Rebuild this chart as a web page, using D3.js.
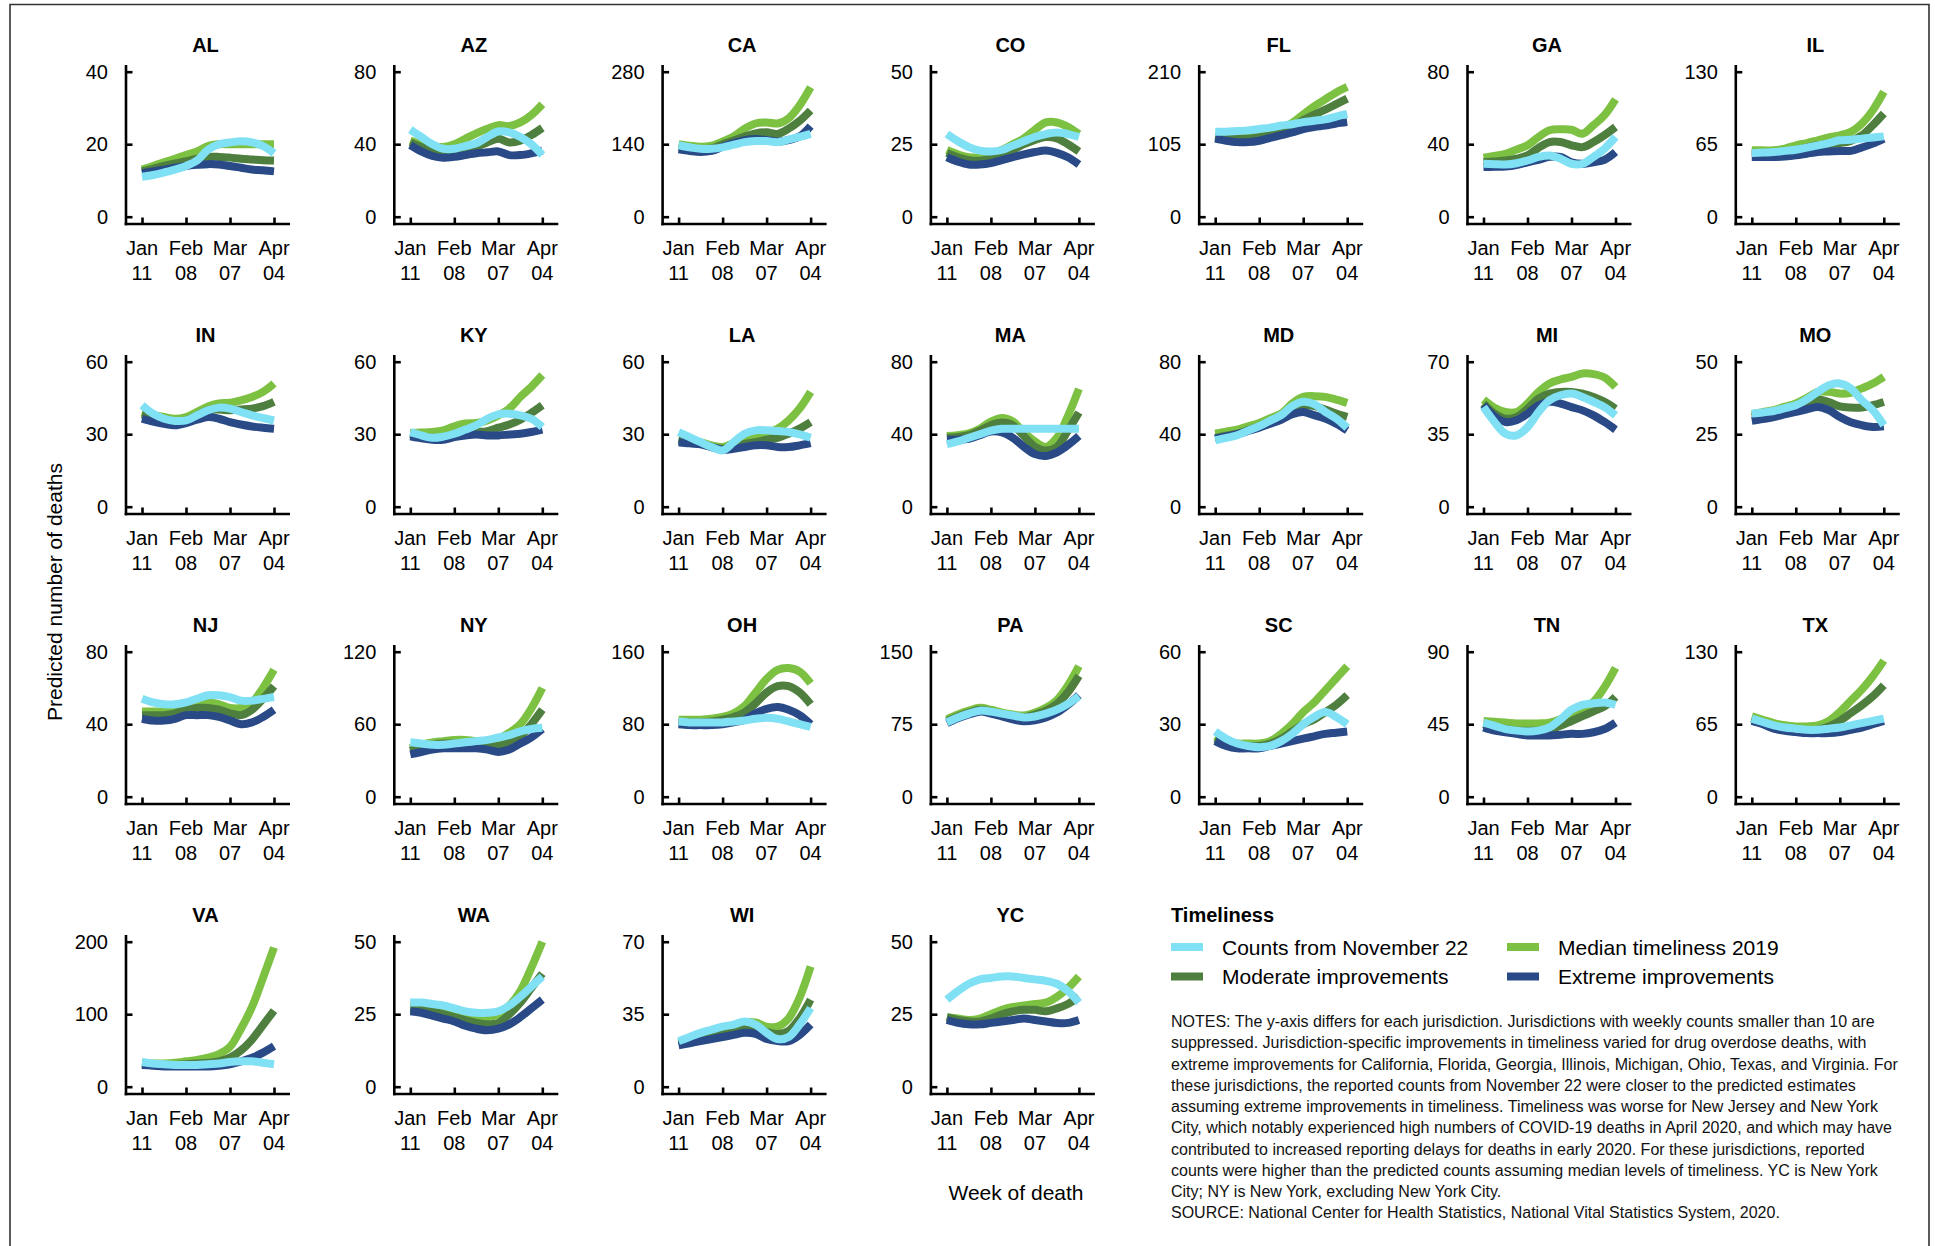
<!DOCTYPE html>
<html>
<head>
<meta charset="utf-8">
<script src="https://cdn.jsdelivr.net/npm/d3@7"></script>
<style>
  html, body { margin: 0; padding: 0; background: #fff; }
  svg { display: block; font-family: "Liberation Sans", Arial, Helvetica, sans-serif; }
</style>
</head>
<body>
<svg id="chart" width="1935" height="1246"></svg>
<script>
// Jurisdictions in panel order (7 per row)
const jurisdictions = ["AL","AZ","CA","CO","FL","GA","IL",
                       "IN","KY","LA","MA","MD","MI","MO",
                       "NJ","NY","OH","PA","SC","TN","TX",
                       "VA","WA","WI","YC"];
// Upper y tick per jurisdiction (ticks at 0, half, max)
const yMaxes = [40,80,280,50,210,80,130,
                60,60,60,80,80,70,50,
                80,120,160,150,60,90,130,
                200,50,70,50];
// Weeks of death, Jan 11 – Apr 04, 2020
const weeks = ["2020-01-11","2020-01-18","2020-01-25","2020-02-01","2020-02-08","2020-02-15","2020-02-22",
               "2020-02-29","2020-03-07","2020-03-14","2020-03-21","2020-03-28","2020-04-04"];
const tickWeeks = ["2020-01-11","2020-02-08","2020-03-07","2020-04-04"];
const tickLabels = [["Jan","11"],["Feb","08"],["Mar","07"],["Apr","04"]];

const seriesNames = ["Counts from November 22","Median timeliness 2019","Moderate improvements","Extreme improvements"];
const seriesColors = ["#80e0f4","#7dc143","#4f7f3e","#294a86"];

// Reported counts from November 22
const counts = [
  [11,11.5,12.2,13,14,15.5,18.5,20,20.5,20.8,20.5,19.5,17.5],            // AL
  [48,44,40,37.5,37.5,39,40.5,44,47,46.5,44,40,34],                     // AZ
  [138,134,131,131,134,139,144,146,146,144,149,154,160],                // CA
  [28.5,26,24,22.8,22.5,23,24.5,26,27.5,28.5,29,28.5,27.5],             // CO
  [123,123,124,125,127,129,132,134,137,139,141,145,149],                // FL
  [29.2,29,28.8,29.5,31,33,33.8,32,29.2,29.2,33,37.5,44],               // GA
  [57,57.5,58,59,60,62,64,66,68.5,69,70,71,72],                         // IL
  [42,38.5,36.4,35.5,35.7,37.8,39.9,41,40.6,39.2,37.8,36.7,35.7],       // IN
  [30.9,29.5,28.5,29,30.2,31.9,33.7,36.4,38.2,38.5,37.8,36.4,33],       // KY
  [30.9,28.8,26.7,24.7,23.3,26.7,30.2,31.6,31.6,31.3,30.9,29.9,28.5],   // LA
  [34.5,36,38,40,42,43,43,43,43,43,43,43,43],                           // MA
  [36.6,38,39.4,42,44.4,47.5,50.5,55.5,57.9,56.6,52.3,48.6,43.6],       // MD
  [48.1,40.9,35.2,34.4,38.4,45.7,51.4,53.8,54.6,53,50.6,48.1,44.1],     // MI
  [32.1,32.5,33,34,35,37,39.6,41.9,42.5,40.8,36.7,33.3,28.1],           // MO
  [54,52,51,51,52,54,56,56,55,53,53,54,55],                             // NJ
  [45,44,43,43,44,45,46,47,49,51,54,56,57],                             // NY
  [83,82,82,82,82,83,84,86,87,86,83,80,77],                             // OH
  [77,82,86,89,88,86,84,82,83,86,90,96,104],                            // PA
  [27,24,22,21,20.5,21,23,26,30,33,35,33,30],                           // SC
  [46,44,42,41,40.5,41,43,48,54,57,58,58.5,57],                         // TN
  [70,67,64,62,61,60,60,61,62,64,66,68,70],                             // TX
  [34,32,31,30,30,30,31,32,34,35,35,33,31],                             // VA
  [29,29,28.5,28,27,26,25.5,25.5,26,28,31,34.5,38],                     // WA
  [22,24,26,27.5,29,30,31.5,30,26,23,24,30,38],                         // WI
  [30,33,35.5,37,37.5,38,38,37.5,37,36.5,35.5,33,29]                    // YC
];

// Predicted, median timeliness 2019
const median = [
  [13,14,15,16,17,18,19.5,20,20,20,20,20,20],
  [42,40,39,38.5,40,43,46,48.5,50.5,50,52,56,62],
  [140,137,135,137,145,155,170,180,182,180,190,215,250],
  [23,21.5,20.5,20.5,21.5,23,25,27,30,32.5,32.5,31,28.5],
  [118,116,115,116,118,122,128,136,148,160,170,180,188],
  [32.5,33.5,34.7,37,39.4,44,47.7,48.2,48,45.8,50.5,56,64.7],
  [59.5,59.5,59.5,61,64,66,68.5,71,73,76,83.5,95.5,112],
  [39.2,38,37.1,36.4,37.1,39.2,41.5,42.7,43,44,45.4,47.5,51],
  [30.5,30.7,30.9,31.6,33.3,34.4,34.6,35.7,37.8,40.6,45.4,49.6,54.5],
  [28.1,27.4,26.7,25.4,24.7,26.3,27.7,28.5,30.2,32.3,35.7,40.6,47.5],
  [39,39.5,40.5,43,47,49,47,41,36,33,38,50,65],
  [40.3,41.4,42.5,44.4,46.2,48.8,51.4,56.9,60.6,61,60.6,59.1,57.3],
  [51.7,47.8,45.7,45.7,49.8,55.4,59.5,61.4,62.7,64.3,64,62.4,57.8],
  [31.9,32.6,33.3,34.5,35.6,37.5,39.6,39.6,39,39.3,40.8,42.5,44.8],
  [47,47,47,48,50,51,52,51,49,49,52,60,70],
  [40,43,45,46,47,47,46,46,48,53,60,73,90],
  [85,85,85,86,88,92,100,115,130,140,142,138,125],
  [80,85,89,92,90,87,85,84,87,92,100,115,135],
  [25,23,22,22,22,23,26,30,35,39,44,49,54],
  [47,46.5,46,45.5,45.5,45.5,46,48,51,55,59,68,80],
  [72,69,66,64,63,63,64,68,76,86,96,108,122],
  [33,32,32,33,35,37,40,45,55,80,110,150,192],
  [28,28,27.5,27,26,25,24,24,25,28,33,41,50],
  [21,22.5,24,25.5,27,28.5,31,31,29,29,33,43,58],
  [24,23.5,23,23.5,25,26.5,27.5,28,28.5,29,31,34,38]
];

// Predicted, moderate improvements in timeliness
const moderate = [
  [12.5,13.2,14,14.7,15.3,16,16.5,16.5,16.3,16,15.8,15.6,15.5],
  [41,38.5,36.5,35.5,36,37,38.5,41,43,41,42,45,49],
  [135,132,130,132,140,147,155,161,163,160,170,185,205],
  [22,20.5,19.5,19.3,20,21.5,23,25,26.5,27.5,27,25,22.5],
  [116,114,113,113,115,118,123,130,140,148,155,163,171],
  [30,30.5,31,32,33.8,38,41.2,41.2,39.4,38.4,41.2,45,49.5],
  [56.5,57,57.5,58,59.5,62,64,65,66,68,73,82,92.5],
  [38.2,37,36,35.3,35.7,37.8,40,40.2,39.9,40.2,40.6,41.6,43.4],
  [30,29,28.5,28.5,29.5,30.5,30.9,31.3,32.7,34,36,38.8,42],
  [27.7,26.8,26,24.7,24,25,26,26.7,27.7,28.5,30.2,32.3,35],
  [38,38.5,39.5,42,45,46.5,45,39,33,31,33,42,52],
  [38,39.2,40.3,42.3,44.4,47,49.5,53.6,56,55.5,53.6,51.4,49.5],
  [49.8,44.9,42.5,43.3,47.3,52.2,54.6,55.4,55.4,54.6,53,50.6,47.3],
  [30.9,31.5,32.1,33.2,34.4,35.7,37,36.1,34.6,34.2,34.2,35,36.1],
  [45,45,45,46,48,49,49,48,46,45,48,54,61],
  [38,41,43,44,44,44,43,42,42,45,50,60,72],
  [82,82,82,83,85,88,93,103,115,122,122,115,102],
  [78,83,87,90,88,85,83,82,85,89,96,108,125],
  [24,22,21,21,21,22,24,27,30,32,35,38,42],
  [45,43,42,41,41,41,42,44,47,50,53,56,62],
  [70,66,63,61,60,59,60,63,68,75,82,90,100],
  [31,30,30,30,31,32,33,35,40,50,65,85,105],
  [27,26.5,26,25,24,23,22,21.5,22,25,29,34,39],
  [21,22,23.5,24.5,26,27,28.5,28,26.5,25.5,27,33,42],
  [24,23,22.5,22.5,23.5,25,26,26.5,26.5,26,27,28.5,31]
];

// Predicted, extreme improvements in timeliness
const extreme = [
  [12,12.5,13,13.5,14,14.3,14.5,14.4,14,13.5,13,12.8,12.5],
  [39.5,36,33.5,32.5,33,34,35,35.5,36,34,34,35,36.5],
  [130,127,125,127,135,142,148,150,148,145,148,155,175],
  [20.5,19,18,18,18.5,19.5,20.5,21.5,22.3,22.8,22,20.5,18],
  [113,110,108,108,110,114,118,122,127,130,132,135,137],
  [27.4,27.5,27.7,28.5,30,31.4,33,33,30,29.2,30,31.4,35.7],
  [53.5,53.5,53.5,54,55,56.5,58,58.5,59,59,62,65.5,70],
  [36.4,35.2,34.3,33.7,34.6,36,37.1,36.4,35,34,33.2,32.7,32.3],
  [29.1,28.3,27.7,27.7,28.8,29.5,29.9,29.5,29.5,29.9,30.2,30.9,31.9],
  [26.7,26.2,25.8,24.7,23.5,24,24.7,25.4,25.4,24.7,24.7,25.4,26.3],
  [37,37,37.5,39.5,41.5,41,38,33,29,28,30,34,39],
  [37.5,38.8,40,41.8,43.6,45.8,48,51,52.3,50.5,48.6,45.8,42.1],
  [49,43.6,40.9,41.7,44.9,49,50.6,49.8,48.1,46.5,44.1,40.9,37.2],
  [29.6,30.2,30.9,31.8,32.7,33.6,34.4,33.3,30.9,29.1,28.1,27.5,27.7],
  [43,42,42,43,45,45,45,44,42,40,41,44,48],
  [35,37,39,40,40,40,40,39,37,39,44,49,56],
  [80,79,79,79,80,82,85,92,97,99,96,90,80],
  [76,81,85,88,86,83,80,78,79,82,87,95,105],
  [23,21,20,20,20,21,22,23,24,25,26,26.5,27],
  [43,41,40,39,38,38,38,38.5,39,39,40,42,46],
  [68,65,61,59,58,57,57,57,58,60,62,65,68],
  [30,29,28,28,28,28,28,29,31,35,40,47,56],
  [26,25.5,24.5,23.5,22.5,21,20,19.5,20,21.5,24,27,30],
  [20,21,22,23,24,25,26,25.5,23,22,22,25,30],
  [23,22,21.5,21.5,22,22.5,23,23.5,23,22.5,22,22,23]
];

const noteLines = [
  "NOTES: The y-axis differs for each jurisdiction. Jurisdictions with weekly counts smaller than 10 are",
  "suppressed. Jurisdiction-specific improvements in timeliness varied for drug overdose deaths, with",
  "extreme improvements for California, Florida, Georgia, Illinois, Michigan, Ohio, Texas, and Virginia. For",
  "these jurisdictions, the reported counts from November 22 were closer to the predicted estimates",
  "assuming extreme improvements in timeliness. Timeliness was worse for New Jersey and New York",
  "City, which notably experienced high numbers of COVID-19 deaths in April 2020, and which may have",
  "contributed to increased reporting delays for deaths in early 2020. For these jurisdictions, reported",
  "counts were higher than the predicted counts assuming median levels of timeliness. YC is New York",
  "City; NY is New York, excluding New York City.",
  "SOURCE: National Center for Health Statistics, National Vital Statistics System, 2020."
];

// ---- layout ----
const svg = d3.select("#chart");
const parse = d3.timeParse("%Y-%m-%d");
const weekDates = weeks.map(parse);
const tickDates = tickWeeks.map(parse);

const col0 = 126, colStep = 268.3;   // y-axis x of first column, column pitch
const row0 = 71.7, rowStep = 290;    // top tick y of first row, row pitch
const plotH = 145;                   // top tick to zero tick
const axisW = 164;                   // x axis line length
const axisGap = 7.3;                 // zero tick to x axis line

const x = d3.scaleTime().domain([tickDates[0], tickDates[3]]).range([16, 148]);

// draw order: median under moderate under extreme, counts on top
const drawOrder = [
  {data: median, color: seriesColors[1]},
  {data: moderate, color: seriesColors[2]},
  {data: extreme, color: seriesColors[3]},
  {data: counts, color: seriesColors[0]}
];

// outer frame
svg.append("path")
  .attr("d", "M10,1246V4.5H1929V1246")
  .attr("fill", "none").attr("stroke", "#333").attr("stroke-width", 1.6);

jurisdictions.forEach((name, i) => {
  const c = i % 7, r = Math.floor(i / 7);
  const g = svg.append("g").attr("transform", `translate(${col0 + c * colStep},${row0 + r * rowStep})`);
  const yMax = yMaxes[i];
  const y = d3.scaleLinear().domain([0, yMax]).range([plotH, 0]);

  // title
  g.append("text")
    .attr("x", 79.5).attr("y", -19.5)
    .attr("text-anchor", "middle")
    .attr("fill", "#000")
    .style("font-size", "20px").style("font-weight", "bold")
    .text(name);

  // series
  const line = d3.line()
    .x((d, k) => x(weekDates[k]))
    .y(d => y(d))
    .curve(d3.curveCatmullRom.alpha(0.5));
  drawOrder.forEach(s => {
    g.append("path")
      .datum(s.data[i])
      .attr("d", line)
      .attr("fill", "none")
      .attr("stroke", s.color)
      .attr("stroke-width", 8)
      .attr("stroke-linecap", "butt")
      .attr("stroke-linejoin", "round");
  });

  // y axis
  const yAxis = g.append("g")
    .call(d3.axisLeft(y).tickValues([0, yMax / 2, yMax]).tickSize(-6.5).tickPadding(18).tickFormat(d3.format("d")));
  yAxis.select(".domain").remove();
  yAxis.selectAll(".tick line").attr("stroke", "#000").attr("stroke-width", 2.6);
  yAxis.selectAll(".tick text").style("font-size", "20px").attr("fill", "#000");
  yAxis.attr("font-family", null).attr("font-size", null);
  g.append("line")
    .attr("x1", 0).attr("x2", 0)
    .attr("y1", -6.7).attr("y2", plotH + axisGap + 1.3)
    .attr("stroke", "#000").attr("stroke-width", 2.6);

  // x axis
  const xg = g.append("g").attr("transform", `translate(0,${plotH + axisGap})`);
  xg.call(d3.axisBottom(x).tickValues(tickDates).tickSize(-6.5).tickFormat(""));
  xg.select(".domain").remove();
  xg.selectAll(".tick line").attr("stroke", "#000").attr("stroke-width", 2.6);
  xg.selectAll(".tick text").remove();
  xg.append("line")
    .attr("x1", -1.3).attr("x2", axisW)
    .attr("y1", 0).attr("y2", 0)
    .attr("stroke", "#000").attr("stroke-width", 2.6);
  tickDates.forEach((d, k) => {
    const t = xg.append("text")
      .attr("text-anchor", "middle")
      .attr("fill", "#000")
      .style("font-size", "20px");
    t.append("tspan").attr("x", x(d)).attr("y", 31).text(tickLabels[k][0]);
    t.append("tspan").attr("x", x(d)).attr("y", 56).text(tickLabels[k][1]);
  });
});

// shared axis titles
svg.append("text")
  .attr("transform", "translate(62,592) rotate(-90)")
  .attr("text-anchor", "middle")
  .attr("fill", "#000")
  .style("font-size", "21px")
  .text("Predicted number of deaths");

svg.append("text")
  .attr("x", 1016).attr("y", 1200)
  .attr("text-anchor", "middle")
  .attr("fill", "#000")
  .style("font-size", "21px")
  .text("Week of death");

// legend
const legend = svg.append("g").attr("transform", "translate(1171,0)");
legend.append("text")
  .attr("x", 0).attr("y", 922)
  .attr("fill", "#000")
  .style("font-size", "20px").style("font-weight", "bold")
  .text("Timeliness");
const legendItems = [
  {name: seriesNames[0], color: seriesColors[0], col: 0, row: 0},
  {name: seriesNames[1], color: seriesColors[1], col: 1, row: 0},
  {name: seriesNames[2], color: seriesColors[2], col: 0, row: 1},
  {name: seriesNames[3], color: seriesColors[3], col: 1, row: 1}
];
legendItems.forEach(it => {
  const lx = it.col * 336, ly = 947 + it.row * 29.5;
  legend.append("rect")
    .attr("x", lx).attr("y", ly - 4).attr("width", 32).attr("height", 8)
    .attr("fill", it.color);
  legend.append("text")
    .attr("x", lx + 51).attr("y", ly + 7.5)
    .attr("fill", "#000")
    .style("font-size", "21px")
    .text(it.name);
});

// notes
const notes = svg.append("text").style("font-size", "16px").attr("fill", "#111");
noteLines.forEach((t, k) => {
  notes.append("tspan").attr("x", 1171).attr("y", 1027 + k * 21.25).text(t);
});
</script>
</body>
</html>
